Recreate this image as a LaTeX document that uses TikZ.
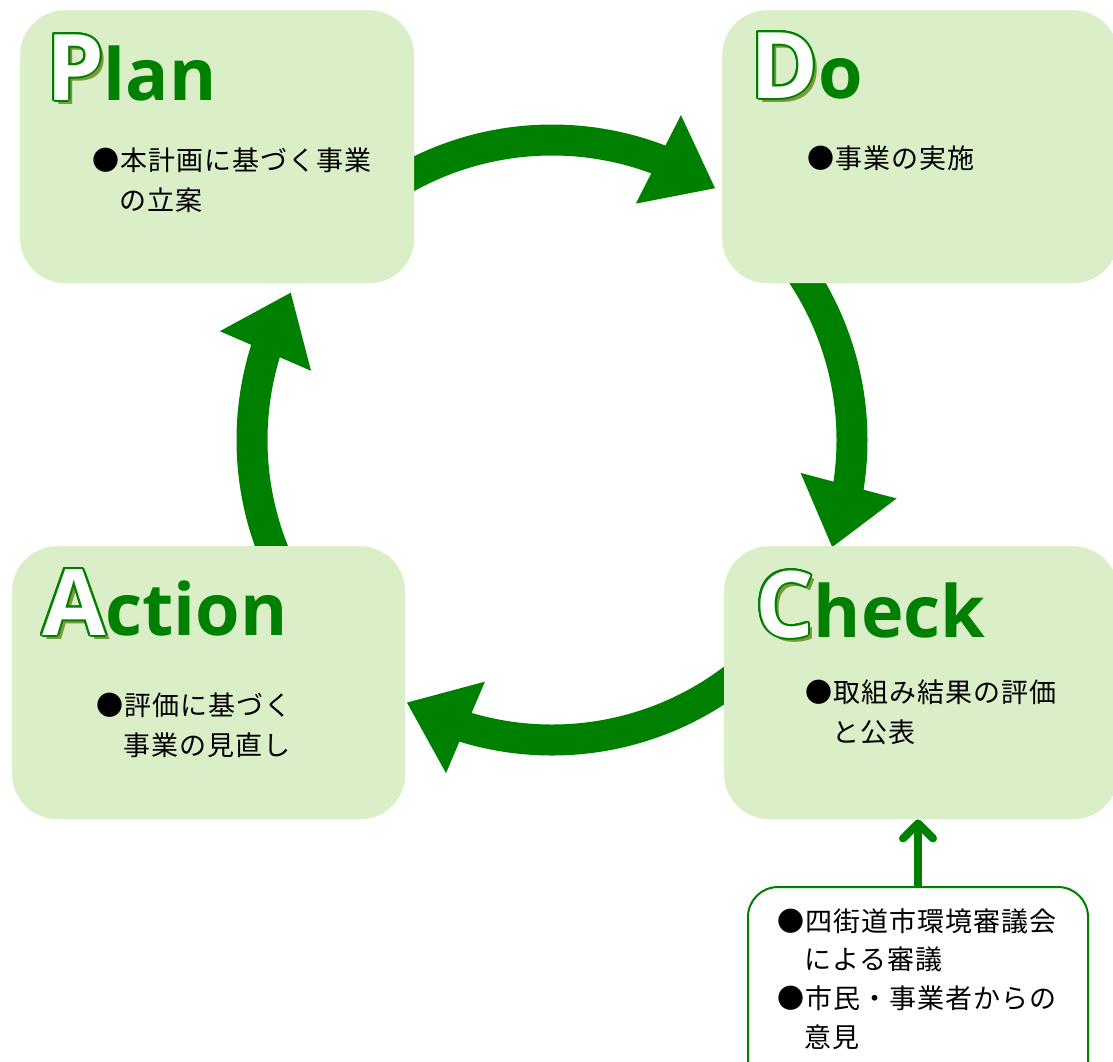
\documentclass[tikz,border=0pt]{standalone}
\usepackage{fontspec}
\usepackage[copies]{contour}
\usetikzlibrary{arrows.meta,bending,backgrounds}
\newfontfamily\jpfont[LetterSpace=4]{Noto Sans CJK JP}
\newfontfamily\ttlfont{Open Sans}
\definecolor{pdcagreen}{RGB}{0,128,0}
\definecolor{boxgreen}{RGB}{218,238,199}
\definecolor{shadowolive}{RGB}{122,154,58}
\contourlength{2pt}
\newcommand{\bigini}[1]{{\fontsize{92}{92}\selectfont\makebox[0pt][l]{\hspace*{4pt}\raisebox{-4pt}{\textcolor{shadowolive}{#1}}}\textcolor{white}{\contour{pdcagreen}{#1}}}}
\tikzset{
  box/.style={rectangle, rounded corners=45pt, fill=boxgreen, anchor=north west, inner sep=0pt},
  ttl/.style={anchor=base west, inner sep=0pt, text=pdcagreen, font=\ttlfont\bfseries\fontsize{72}{72}\selectfont},
  memo/.style={anchor=north west, inner sep=0pt, align=left, font=\jpfont\fontsize{27}{40}\selectfont},
  cyc/.style={line width=31pt, pdcagreen, -{Triangle[length=64pt,width=95pt,flex]}}
}
\begin{document}
\begin{tikzpicture}[x=1pt, y=-1pt]
  \useasboundingbox (0,0) rectangle (1113,1061);
  % boxes
  \node[box, minimum width=394pt, minimum height=273pt] (plan) at (20,10) {};
  \node[box, minimum width=396pt, minimum height=273pt] (do) at (722,10) {};
  \node[box, minimum width=393pt, minimum height=273pt] (act) at (12,546) {};
  \node[box, minimum width=394pt, minimum height=273pt] (check) at (724,546) {};
  \node[box, fill=white, draw=pdcagreen, line width=2pt, rounded corners=30pt,
        minimum width=340pt, minimum height=220pt] (opinion) at (747,886) {};
  % titles
  \node[ttl] (planT) at (46,100) {\bigini{P}lan};
  \node[ttl] (doT) at (750,98) {\bigini{D}o};
  \node[ttl] (actT) at (42,635) {\bigini{A}ction};
  \node[ttl] (checkT) at (755,637) {\bigini{C}heck};
  % texts
  \node[memo] (planM) at (92,148) {●本計画に基づく事業\\\hphantom{●}の立案};
  \node[memo] (doM) at (807,146) {●事業の実施};
  \node[memo] (actM) at (96,693) {●評価に基づく\\\hphantom{●}事業の見直し};
  \node[memo] (checkM) at (805,680) {●取組み結果の評価\\\hphantom{●}と公表};
  \node[memo, font=\jpfont\fontsize{27}{38.7}\selectfont] (opinionM) at (777,908)
    {●四街道市環境審議会\\\hphantom{●}による審議\\●市民・事業者からの\\\hphantom{●}意見};
  \draw[line width=8pt, pdcagreen, -{Straight Barb[round,length=15pt,width=30pt]}]
    (opinion.north) -- (opinion.north |- check.south);
  % cycle arrows
  \begin{scope}[on background layer]
    \fill[white] (0,0) rectangle (1113,1061);
    \coordinate (hub) at (552,440);
    \draw[cyc] (hub) ++(-125:300) arc[start angle=-125, end angle=-57, radius=300];
    \draw[cyc] (hub) ++(-38:300) arc[start angle=-38, end angle=21, radius=300];
    \draw[cyc] (hub) ++(48:300) arc[start angle=48, end angle=119, radius=300];
    \draw[cyc] (hub) ++(152:300) arc[start angle=152, end angle=209.5, radius=300];
  \end{scope}
\end{tikzpicture}
\end{document}
